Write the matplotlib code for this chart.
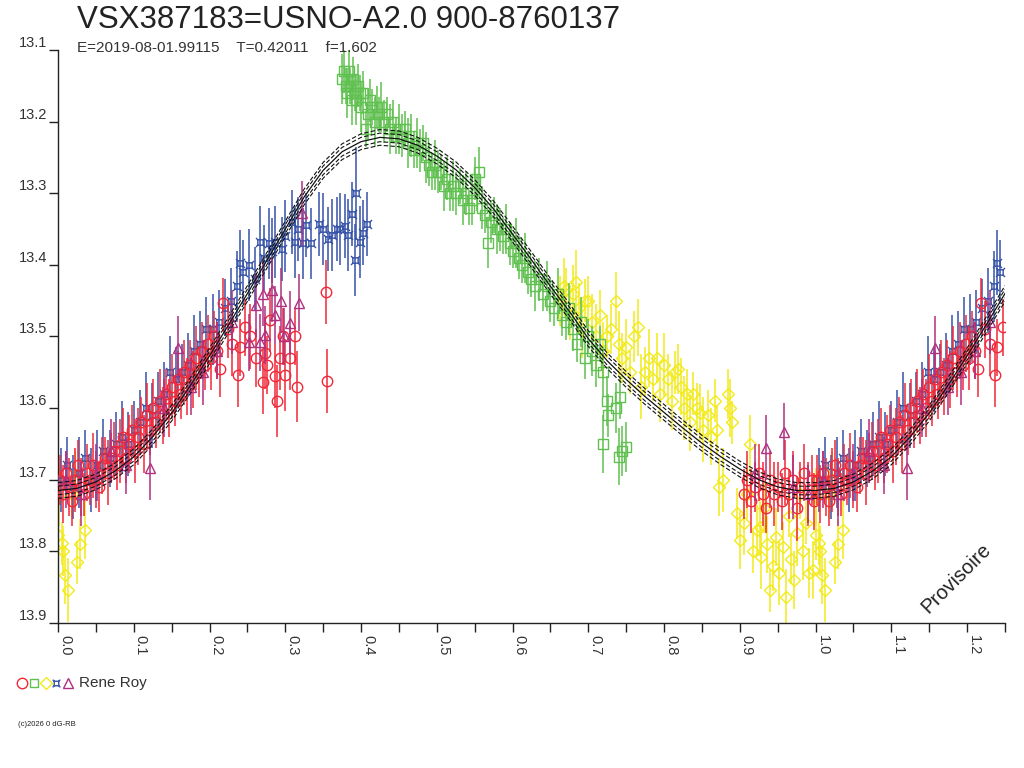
import numpy as np
import matplotlib
matplotlib.use("Agg")
import matplotlib.pyplot as plt
from matplotlib.path import Path
from matplotlib.lines import Line2D

# ---------------- data (phase, magnitude, error) ----------------
red_phase = [0.002, 0.006, 0.010, 0.014, 0.018, 0.022, 0.026, 0.030, 0.034, 0.038, 0.042, 0.046,
             0.050, 0.054, 0.058, 0.062, 0.066, 0.070, 0.074, 0.078, 0.082, 0.086, 0.090, 0.094,
             0.098, 0.102, 0.106, 0.110, 0.114, 0.118, 0.122, 0.126, 0.130, 0.134, 0.138, 0.142,
             0.146, 0.150, 0.154, 0.158, 0.162, 0.166, 0.170, 0.174, 0.178, 0.182, 0.186, 0.190,
             0.194, 0.198, 0.202, 0.206, 0.210, 0.214, 0.218, 0.224, 0.230, 0.237, 0.240, 0.247,
             0.253, 0.262, 0.270, 0.273, 0.276, 0.280, 0.286, 0.289, 0.293, 0.297, 0.300, 0.306,
             0.313, 0.315, 0.354, 0.355,
             0.905, 0.910, 0.915, 0.920, 0.925, 0.930, 0.935, 0.940, 0.945, 0.950, 0.955, 0.960,
             0.965, 0.970, 0.975, 0.980, 0.985, 0.990, 0.995, 0.998]
red_mag = [13.70, 13.72, 13.69, 13.71, 13.73, 13.70, 13.68, 13.71, 13.72, 13.69, 13.70, 13.68,
           13.70, 13.71, 13.68, 13.67, 13.69, 13.67, 13.66, 13.68, 13.66, 13.64, 13.67, 13.65,
           13.63, 13.66, 13.64, 13.62, 13.65, 13.61, 13.63, 13.60, 13.62, 13.59, 13.61, 13.58,
           13.60, 13.57, 13.59, 13.56, 13.58, 13.55, 13.57, 13.54, 13.56, 13.53, 13.55, 13.52,
           13.54, 13.51, 13.53, 13.50, 13.52, 13.545, 13.453, 13.49, 13.51, 13.554, 13.515, 13.487,
           13.50, 13.53, 13.563, 13.523, 13.54, 13.477, 13.555, 13.59, 13.53, 13.50, 13.554, 13.53,
           13.50, 13.57, 13.438, 13.562,
           13.72, 13.70, 13.73, 13.71, 13.69, 13.72, 13.74, 13.70, 13.72, 13.71, 13.73, 13.69,
           13.72, 13.70, 13.74, 13.71, 13.69, 13.72, 13.70, 13.73]
red_err = [0.035, 0.040, 0.030, 0.040, 0.035, 0.045, 0.035, 0.040, 0.030, 0.040, 0.035, 0.045,
           0.040, 0.035, 0.040, 0.030, 0.045, 0.035, 0.040, 0.035, 0.045, 0.040, 0.035, 0.040,
           0.035, 0.045, 0.040, 0.035, 0.040, 0.045, 0.035, 0.040, 0.035, 0.045, 0.040, 0.035,
           0.040, 0.045, 0.035, 0.040, 0.035, 0.045, 0.040, 0.035, 0.040, 0.045, 0.035, 0.040,
           0.035, 0.040, 0.045, 0.035, 0.040, 0.040, 0.035, 0.040, 0.045, 0.045, 0.040, 0.040,
           0.045, 0.040, 0.045, 0.050, 0.040, 0.045, 0.045, 0.050, 0.045, 0.040, 0.050, 0.045,
           0.040, 0.050, 0.045, 0.045,
           0.035, 0.040, 0.045, 0.035, 0.040, 0.045, 0.035, 0.040, 0.045, 0.035, 0.040, 0.045,
           0.035, 0.040, 0.045, 0.035, 0.040, 0.045, 0.035, 0.040]

blue_phase = [0.004, 0.012, 0.020, 0.028, 0.036, 0.044, 0.052, 0.060, 0.068, 0.076, 0.084, 0.092,
              0.100, 0.108, 0.116, 0.124, 0.132, 0.140, 0.148, 0.156, 0.164, 0.172, 0.180, 0.188,
              0.196, 0.204, 0.212, 0.220, 0.228, 0.236, 0.240, 0.244, 0.252, 0.260, 0.266, 0.272,
              0.278, 0.282, 0.286, 0.296, 0.300, 0.309, 0.313, 0.317, 0.323, 0.328, 0.334, 0.345,
              0.350, 0.357, 0.362, 0.368, 0.372, 0.379, 0.383, 0.388, 0.392, 0.394, 0.398, 0.402,
              0.408]
blue_mag = [13.70, 13.68, 13.71, 13.69, 13.67, 13.70, 13.68, 13.66, 13.67, 13.65, 13.64, 13.65,
            13.63, 13.62, 13.60, 13.61, 13.59, 13.58, 13.55, 13.56, 13.55, 13.54, 13.52, 13.51,
            13.49, 13.49, 13.48, 13.46, 13.45, 13.43, 13.397, 13.41, 13.40, 13.42, 13.368, 13.39,
            13.37, 13.38, 13.368, 13.378, 13.36, 13.34, 13.368, 13.35, 13.37, 13.344, 13.37, 13.343,
            13.35, 13.364, 13.358, 13.35, 13.35, 13.346, 13.358, 13.329, 13.393, 13.30, 13.368, 13.355,
            13.343]
blue_err = [0.045, 0.040, 0.045, 0.050, 0.040, 0.045, 0.050, 0.045, 0.040, 0.045, 0.050, 0.045,
            0.040, 0.045, 0.050, 0.045, 0.040, 0.045, 0.050, 0.045, 0.040, 0.045, 0.050, 0.045,
            0.045, 0.050, 0.045, 0.040, 0.045, 0.050, 0.045, 0.045, 0.050, 0.045, 0.050, 0.045,
            0.050, 0.045, 0.050, 0.045, 0.050, 0.045, 0.050, 0.045, 0.050, 0.045, 0.050, 0.045,
            0.050, 0.045, 0.050, 0.045, 0.050, 0.045, 0.050, 0.045, 0.050, 0.065, 0.050, 0.045,
            0.045]

purple_phase = [0.010, 0.030, 0.050, 0.070, 0.090, 0.121, 0.140, 0.158, 0.175, 0.192, 0.210, 0.230,
                0.252, 0.262, 0.266, 0.270, 0.273, 0.282, 0.287, 0.295, 0.298, 0.306, 0.318, 0.322,
                0.920, 0.935, 0.958, 0.970, 0.990]
purple_mag = [13.70, 13.72, 13.69, 13.66, 13.68, 13.683, 13.60, 13.516, 13.57, 13.55, 13.52, 13.48,
              13.508, 13.456, 13.508, 13.44, 13.498, 13.435, 13.47, 13.45, 13.50, 13.481, 13.453, 13.328,
              13.69, 13.655, 13.633, 13.71, 13.72]
purple_err = [0.040, 0.045, 0.040, 0.045, 0.040, 0.045, 0.040, 0.045, 0.040, 0.045, 0.040, 0.045,
              0.040, 0.045, 0.040, 0.045, 0.040, 0.045, 0.040, 0.045, 0.040, 0.045, 0.040, 0.045,
              0.040, 0.045, 0.040, 0.045, 0.040]

green_phase = [0.375, 0.378, 0.380, 0.382, 0.384, 0.386, 0.388, 0.390, 0.392, 0.394, 0.396, 0.398,
               0.400, 0.403, 0.406, 0.409, 0.412, 0.415, 0.418, 0.421, 0.424, 0.427, 0.430, 0.434,
               0.438, 0.442, 0.446, 0.450, 0.454, 0.458, 0.462, 0.466, 0.470, 0.474, 0.478, 0.482,
               0.486, 0.490, 0.494, 0.498, 0.502, 0.506, 0.510, 0.514, 0.518, 0.522, 0.526, 0.530,
               0.534, 0.538, 0.542, 0.546, 0.550, 0.553, 0.556, 0.560, 0.564, 0.568, 0.572, 0.576,
               0.580, 0.584, 0.588, 0.592, 0.596, 0.600, 0.604, 0.608, 0.612, 0.616, 0.620, 0.625,
               0.630, 0.635, 0.640, 0.645, 0.650, 0.655, 0.660, 0.665, 0.670, 0.675, 0.680, 0.685,
               0.690, 0.695, 0.700, 0.705, 0.710, 0.716, 0.720, 0.720, 0.724, 0.726, 0.736, 0.741,
               0.742, 0.745, 0.750]
green_mag = [13.14, 13.13, 13.15, 13.16, 13.13, 13.15, 13.17, 13.14, 13.16, 13.17, 13.15, 13.16,
             13.18, 13.16, 13.21, 13.19, 13.17, 13.18, 13.20, 13.18, 13.19, 13.18, 13.20, 13.19,
             13.21, 13.20, 13.22, 13.21, 13.22, 13.21, 13.23, 13.22, 13.24, 13.23, 13.24, 13.23,
             13.25, 13.26, 13.27, 13.26, 13.27, 13.27, 13.29, 13.28, 13.30, 13.29, 13.30, 13.29,
             13.31, 13.30, 13.32, 13.31, 13.28, 13.30, 13.27, 13.32, 13.33, 13.37, 13.34, 13.33,
             13.35, 13.35, 13.36, 13.35, 13.37, 13.38, 13.37, 13.39, 13.40, 13.39, 13.41, 13.42,
             13.43, 13.42, 13.44, 13.43, 13.45, 13.46, 13.44, 13.47, 13.48, 13.46, 13.49, 13.51,
             13.48, 13.53, 13.50, 13.52, 13.54, 13.51, 13.55, 13.65, 13.59, 13.61, 13.60, 13.668,
             13.585, 13.66, 13.654]
green_err = [0.035, 0.030, 0.025, 0.035, 0.030, 0.025, 0.035, 0.030, 0.025, 0.035, 0.030, 0.025,
             0.035, 0.030, 0.025, 0.035, 0.030, 0.025, 0.035, 0.030, 0.025, 0.035, 0.030, 0.025,
             0.035, 0.030, 0.025, 0.035, 0.030, 0.025, 0.035, 0.030, 0.025, 0.035, 0.030, 0.025,
             0.035, 0.030, 0.025, 0.035, 0.030, 0.025, 0.035, 0.030, 0.025, 0.035, 0.030, 0.025,
             0.035, 0.030, 0.025, 0.035, 0.030, 0.025, 0.035, 0.030, 0.025, 0.035, 0.030, 0.025,
             0.035, 0.030, 0.025, 0.035, 0.030, 0.025, 0.035, 0.030, 0.025, 0.035, 0.030, 0.025,
             0.035, 0.030, 0.025, 0.035, 0.030, 0.025, 0.035, 0.030, 0.025, 0.035, 0.030, 0.025,
             0.035, 0.030, 0.025, 0.035, 0.030, 0.025, 0.035, 0.040, 0.035, 0.030, 0.035, 0.040,
             0.030, 0.035, 0.035]

yellow_phase = [0.662, 0.668, 0.671, 0.676, 0.680, 0.684, 0.688, 0.692, 0.696, 0.700, 0.705, 0.710,
                0.715, 0.720, 0.725, 0.730, 0.737, 0.740, 0.745, 0.750, 0.755, 0.760, 0.765, 0.770,
                0.775, 0.780, 0.785, 0.790, 0.795, 0.800, 0.805, 0.810, 0.815, 0.818, 0.822, 0.826,
                0.830, 0.834, 0.838, 0.843, 0.847, 0.852, 0.858, 0.862, 0.867, 0.870, 0.873, 0.878,
                0.884, 0.887, 0.890, 0.896, 0.900, 0.905, 0.910, 0.913, 0.918, 0.922, 0.926, 0.928,
                0.932, 0.936, 0.940, 0.944, 0.948, 0.952, 0.957, 0.961, 0.965, 0.968, 0.972, 0.975,
                0.979, 0.983, 0.987, 0.991, 0.996,
                0.000, 0.001, 0.005, 0.006, 0.009, 0.013, 0.018, 0.022, 0.025, 0.029, 0.036]
yellow_mag = [13.45, 13.43, 13.435, 13.47, 13.44, 13.424, 13.46, 13.49, 13.45, 13.45, 13.48, 13.50,
              13.47, 13.52, 13.50, 13.49, 13.45, 13.51, 13.53, 13.515, 13.55, 13.50, 13.487, 13.57,
              13.55, 13.53, 13.56, 13.53, 13.58, 13.54, 13.56, 13.59, 13.55, 13.545, 13.57, 13.60,
              13.58, 13.62, 13.58, 13.60, 13.607, 13.63, 13.61, 13.64, 13.59, 13.63, 13.71, 13.70,
              13.58, 13.60, 13.62, 13.747, 13.784, 13.76, 13.72, 13.65, 13.80, 13.77, 13.766, 13.808,
              13.74, 13.79, 13.854, 13.82, 13.78, 13.83, 13.794, 13.864, 13.75, 13.81, 13.84, 13.775,
              13.72, 13.80, 13.76, 13.83, 13.826,
              13.777, 13.724, 13.789, 13.80, 13.833, 13.854, 13.72, 13.70, 13.815, 13.79, 13.77]
yellow_err = [0.035, 0.040, 0.030, 0.035, 0.040, 0.045, 0.035, 0.040, 0.030, 0.035, 0.040, 0.045,
              0.035, 0.040, 0.030, 0.035, 0.040, 0.045, 0.035, 0.040, 0.030, 0.035, 0.040, 0.045,
              0.035, 0.040, 0.030, 0.035, 0.040, 0.045, 0.035, 0.040, 0.030, 0.035, 0.040, 0.045,
              0.035, 0.040, 0.030, 0.035, 0.040, 0.045, 0.035, 0.040, 0.030, 0.035, 0.040, 0.045,
              0.035, 0.040, 0.030, 0.035, 0.040, 0.045, 0.035, 0.040, 0.030, 0.035, 0.040, 0.045,
              0.035, 0.040, 0.030, 0.035, 0.040, 0.045, 0.035, 0.040, 0.030, 0.035, 0.040, 0.045,
              0.035, 0.040, 0.030, 0.035, 0.040,
              0.035, 0.040, 0.030, 0.035, 0.040, 0.045, 0.035, 0.040, 0.030, 0.035, 0.040]

# fitted light curve (phase grid 0..1 by 0.025)
fit_phase = [0.000, 0.025, 0.050, 0.075, 0.100, 0.125, 0.150, 0.175, 0.200, 0.225, 0.250, 0.275,
             0.300, 0.325, 0.350, 0.375, 0.400, 0.425, 0.450, 0.475, 0.500, 0.525, 0.550, 0.575,
             0.600, 0.625, 0.650, 0.675, 0.700, 0.725, 0.750, 0.775, 0.800, 0.825, 0.850, 0.875,
             0.900, 0.925, 0.950, 0.975, 1.000]
fit_mag = [13.715, 13.712, 13.703, 13.688, 13.668, 13.640, 13.607, 13.568, 13.527, 13.484, 13.440, 13.395,
           13.350, 13.305, 13.268, 13.242, 13.228, 13.222, 13.224, 13.233, 13.248, 13.267, 13.292, 13.322,
           13.357, 13.393, 13.430, 13.465, 13.503, 13.534, 13.560, 13.584, 13.606, 13.628, 13.649, 13.668,
           13.685, 13.700, 13.710, 13.715, 13.715]
fit_band = [0.006, 0.011]

y_ticks = [13.1, 13.2, 13.3, 13.4, 13.5, 13.6, 13.7, 13.8, 13.9]
x_ticks = [0.0, 0.1, 0.2, 0.3, 0.4, 0.5, 0.6, 0.7, 0.8, 0.9, 1.0, 1.1, 1.2]

title = "VSX387183=USNO-A2.0 900-8760137"
subtitle = "E=2019-08-01.99115    T=0.42011    f=1.602"
observer = "Rene Roy"

# ---------------- styling ----------------
plt.rcParams['font.family'] = ['Liberation Sans', 'DejaVu Sans']
TXT = '#333333'
C_RED = '#f02838'
C_GREEN = '#60c050'
C_YELLOW = '#f2ea1a'
C_BLUE = '#3552a8'
C_PURPLE = '#b03080'

# custom "square lozenge" marker for blue
verts = [(-0.5, -0.5), (0.5, -0.5), (0.5, 0.5), (-0.5, 0.5), (-0.5, -0.5),
         (-0.5, -0.5), (-0.85, -0.85), (0.5, -0.5), (0.85, -0.85),
         (0.5, 0.5), (0.85, 0.85), (-0.5, 0.5), (-0.85, 0.85)]
codes = [Path.MOVETO, Path.LINETO, Path.LINETO, Path.LINETO, Path.CLOSEPOLY,
         Path.MOVETO, Path.LINETO, Path.MOVETO, Path.LINETO,
         Path.MOVETO, Path.LINETO, Path.MOVETO, Path.LINETO]
blue_marker = Path(verts, codes)

W, H = 1024, 768
fig = plt.figure(figsize=(W / 100, H / 100), dpi=100)
ax = fig.add_axes([58 / W, 1 - 623 / H, (1005 - 58) / W, (623 - 50) / H])


def wrap(ph, mg, er):
    ph = np.asarray(ph); mg = np.asarray(mg); er = np.asarray(er)
    m = ph <= 0.25
    return (np.concatenate([ph, ph[m] + 1]), np.concatenate([mg, mg[m]]),
            np.concatenate([er, er[m]]))


series = [
    (yellow_phase, yellow_mag, yellow_err, C_YELLOW, 'D', 6.0, 2),
    (green_phase, green_mag, green_err, C_GREEN, 's', 6.5, 3),
    (blue_phase, blue_mag, blue_err, C_BLUE, blue_marker, 6.5, 4),
    (red_phase, red_mag, red_err, C_RED, 'o', 7.5, 5),
    (purple_phase, purple_mag, purple_err, C_PURPLE, '^', 7.0, 6),
]
for ph, mg, er, col, mk, ms, z in series:
    x, y, e = wrap(ph, mg, er)
    ax.errorbar(x, y, yerr=e, fmt='none', ecolor=col, elinewidth=1.1, capsize=0, zorder=z)
    ax.plot(x, y, linestyle='none', marker=mk, ms=ms, mfc='none', mec=col, mew=1.0, zorder=z)

fx = np.asarray(fit_phase)
fy = np.asarray(fit_mag)
m = fx <= 0.25
fx = np.concatenate([fx, fx[m][1:] + 1])
fy = np.concatenate([fy, fy[m][1:]])
ax.plot(fx, fy, color='#111111', lw=0.9, zorder=8)
for off in fit_band:
    ax.plot(fx, fy - off, color='#111111', lw=0.8, ls=(0, (4, 2)), zorder=8)
    ax.plot(fx, fy + off, color='#111111', lw=0.8, ls=(0, (4, 2)), zorder=8)

ax.set_xlim(0, 1.25)
ax.set_ylim(13.9, 13.1)
for s in ['top', 'right']:
    ax.spines[s].set_visible(False)
for s in ['left', 'bottom']:
    ax.spines[s].set_color('#222222')
    ax.spines[s].set_linewidth(1.0)

ax.set_yticks(y_ticks)
ax.set_yticklabels([f"{v:.1f}" for v in y_ticks])
ax.set_xticks(x_ticks)
ax.set_xticklabels([f"{v:.1f}" for v in x_ticks], rotation=-90, ha='left', va='top')
ax.set_xticks(np.arange(0.05, 1.26, 0.1), minor=True)
ax.tick_params(axis='both', which='both', direction='out', length=6.5, width=1.0,
               color='#222222', labelcolor=TXT, labelsize=10.5)
ax.tick_params(axis='y', pad=1)
ax.tick_params(axis='x', pad=2)
for lab in ax.get_yticklabels():
    lab.set_va('bottom')

# texts
fig.text(77 / W, 1 - 20 / H, title, fontsize=22.5, color='#222222', va='center', ha='left')
fig.text(77 / W, 1 - 48 / H, subtitle, fontsize=11, color=TXT, va='center', ha='left')
fig.text(956 / W, 1 - 578 / H, "Provisoire", fontsize=14.5, color='#222222', rotation=45,
         ha='center', va='center')

# legend symbols
leg = [(22, C_RED, 'o', 7.5), (34, C_GREEN, 's', 6.0), (46, C_YELLOW, 'D', 6.0),
       (56, C_BLUE, blue_marker, 5.5), (68, C_PURPLE, '^', 7.0)]
for px, col, mk, ms in leg:
    fig.add_artist(Line2D([px / W], [1 - 683 / H], transform=fig.transFigure, marker=mk,
                          ms=ms, mfc='none', mec=col, mew=1.0, linestyle='none'))
fig.text(79 / W, 1 - 683 / H, observer, fontsize=11, color=TXT, va='center', ha='left')
fig.text(18 / W, 1 - 725 / H, "(c)2026 0 dG-RB", fontsize=5.5, color='#222222', va='center', ha='left')

fig.savefig("out.png", dpi=100)
